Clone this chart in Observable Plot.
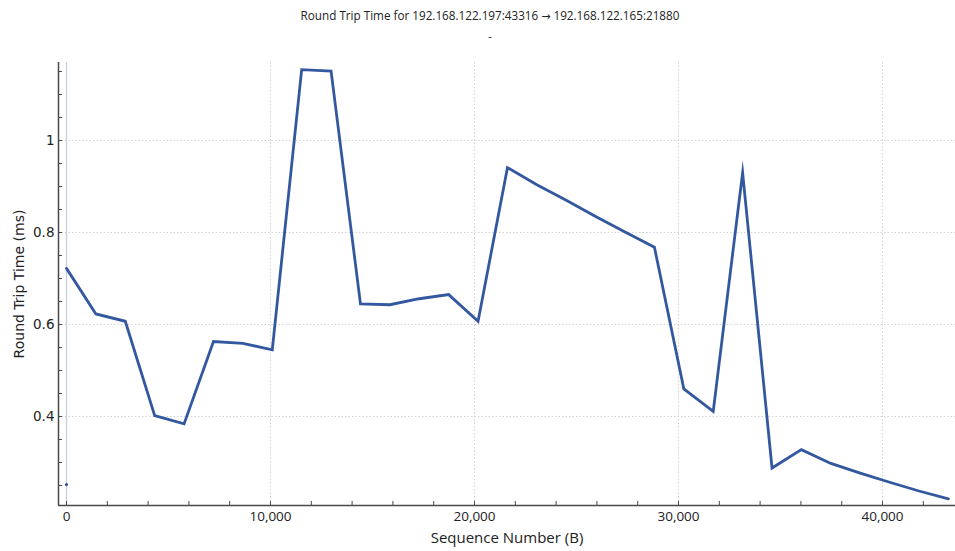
<!DOCTYPE html>
<html>
<head>
<meta charset="utf-8">
<script src="https://cdn.jsdelivr.net/npm/d3@7"></script>
<script src="https://cdn.jsdelivr.net/npm/@observablehq/plot@0.6"></script>
<style>
  html, body { margin: 0; padding: 0; background: #fff; overflow: hidden; }
  body { width: 955px; height: 551px; position: relative; }
  #title { position: absolute; left: 0; top: 7px; width: 980px; text-align: center;
           font: 11.7px "Open Sans", sans-serif; color: #222; white-space: nowrap; }
  #title .arr { font-family: "DejaVu Sans", sans-serif; font-size: 11px; }
  #subtitle { position: absolute; left: 0; top: 28px; width: 980px; text-align: center;
           font: 11px "Open Sans", sans-serif; color: #222; }
  #chart { position: absolute; left: 0; top: 50px; }
</style>
</head>
<body>
<div id="title">Round Trip Time for 192.168.122.197:43316 <span class="arr">→</span> 192.168.122.165:21880</div>
<div id="subtitle">-</div>
<div id="chart"></div>
<script>
// Sequence numbers (bytes) of the acknowledged segments
const seq = [0, 1441, 2882, 4323, 5764, 7205, 8646, 10087, 11528, 12969, 14410,
  15851, 17292, 18733, 20174, 21615, 23056, 24497, 25938, 27379, 28820,
  30261, 31702, 33143, 34584, 36025, 37466, 38907, 40348, 41789, 43230];
// Round trip times (ms)
const rtt = [0.722, 0.623, 0.607, 0.402, 0.384, 0.563, 0.559, 0.545, 1.154, 1.151, 0.645,
  0.643, 0.656, 0.665, 0.607, 0.941, 0.904, 0.870, 0.835, 0.801, 0.768,
  0.460, 0.411, 0.930, 0.288, 0.328, 0.298, 0.277, 0.257, 0.238, 0.221];
// isolated first sample
const firstSeq = [0];
const firstRtt = [0.252];

const xMajor = [0, 10000, 20000, 30000, 40000];
const xMinor = [0, 2000, 4000, 6000, 8000, 10000, 12000, 14000, 16000, 18000, 20000, 22000,
  24000, 26000, 28000, 30000, 32000, 34000, 36000, 38000, 40000, 42000];
const yMajor = [0.4, 0.6, 0.8, 1];
const yMinor = [0.25, 0.3, 0.35, 0.4, 0.45, 0.5, 0.55, 0.6, 0.65, 0.7, 0.75, 0.8, 0.85, 0.9,
  0.95, 1, 1.05, 1.1, 1.15];
const xDomain = [-392, 43578];
const yDomain = [0.2065, 1.1696];

const data = seq.map((s, i) => ({seq: s, rtt: rtt[i]}));
const first = firstSeq.map((s, i) => ({seq: s, rtt: firstRtt[i]}));

const lineColor = "#34589f";
const axisColor = "#4a4a4a";
const gridColor = "#d2d2d2";

const chart = Plot.plot({
  width: 955,
  height: 501,
  marginLeft: 58,
  marginRight: 0,
  marginTop: 12,
  marginBottom: 46,
  style: {fontFamily: "'Open Sans', sans-serif", color: "#222", background: "#fff", overflow: "visible"},
  x: {domain: xDomain},
  y: {domain: yDomain},
  marks: [
    Plot.gridX(xMajor.filter(d => d !== 0), {stroke: gridColor, strokeOpacity: 1, strokeDasharray: "1.5,2"}),
    Plot.gridY(yMajor, {stroke: gridColor, strokeOpacity: 1, strokeDasharray: "1.5,2"}),
    Plot.ruleX(firstSeq, {stroke: "#c3cbdd", strokeWidth: 1.3}),
    Plot.ruleX([xDomain[0]], {stroke: axisColor, strokeWidth: 1.5}),
    Plot.ruleY([yDomain[0]], {stroke: axisColor, strokeWidth: 1.5}),
    Plot.axisY(yMinor, {tickSize: 4, dx: 4, fill: "none", stroke: axisColor, label: null}),
    Plot.axisY(yMajor, {tickSize: 0, tickPadding: 4, tickFormat: d => String(d),
      fontSize: 13.5, fontFamily: "DejaVu Sans", fill: "#222", label: null}),
    Plot.axisY([], {tickSize: 0, fontSize: 14, fontFamily: "DejaVu Sans", fill: "#222",
      label: "Round Trip Time (ms)", labelAnchor: "center", labelOffset: 44, labelArrow: false}),
    Plot.axisX(xMinor, {tickSize: 4, dy: -4, fill: "none", stroke: axisColor, label: null}),
    Plot.axisX(xMajor, {tickSize: 0, tickPadding: 6, tickFormat: d3.format(","),
      fontSize: 13.5, fontFamily: "Open Sans", fill: "#222", label: null}),
    Plot.axisX([], {tickSize: 0, fontSize: 15, fontFamily: "Open Sans", fill: "#222",
      label: "Sequence Number (B)", labelAnchor: "center", labelOffset: 37, labelArrow: false}),
    Plot.line(data, {x: "seq", y: "rtt", stroke: lineColor, strokeWidth: 2.8,
      strokeLinejoin: "miter", strokeMiterlimit: 12}),
    Plot.dot(first, {x: "seq", y: "rtt", r: 1.6, fill: lineColor, stroke: "none"})
  ]
});
document.getElementById("chart").appendChild(chart);
</script>
</body>
</html>
